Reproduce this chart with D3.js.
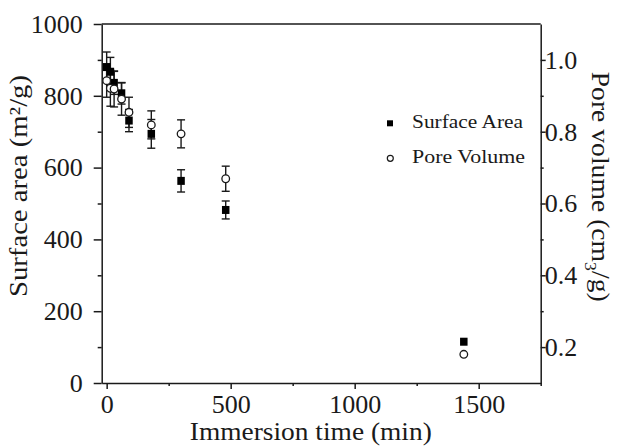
<!DOCTYPE html>
<html><head><meta charset="utf-8">
<script src="https://cdn.jsdelivr.net/npm/d3@7"></script>
<style>body{margin:0;background:#fff}</style>
</head><body>
<svg id="c" width="621" height="446" xmlns="http://www.w3.org/2000/svg"></svg>
<script>
// ---- data ----
const times = [0, 15, 30, 60, 90, 180, 300, 480, 1440];
const surfaceArea = [880, 867, 836, 807, 731, 694, 563, 482, 115];
const surfaceErr = [42, 40, 32, 30, 31, 40, 31, 25, 0];
const poreVolume = [0.942, 0.921, 0.919, 0.891, 0.854, 0.819, 0.794, 0.669, 0.180];
const poreErr = [0.046, 0.05, 0.05, 0.045, 0.042, 0.039, 0.039, 0.035, 0];
const xTicks = [0, 500, 1000, 1500];
const xMinor = [250, 750, 1250, 1750];
const yLeftTicks = [0, 200, 400, 600, 800, 1000];
const yLeftMinor = [100, 300, 500, 700, 900];
const yRightTicks = [0.2, 0.4, 0.6, 0.8, 1.0];
const yRightMinor = [0.3, 0.5, 0.7, 0.9];
const legendLabels = ["Surface Area", "Pore Volume"];

const FONT = "'Liberation Serif','Times New Roman',serif";
const INK = "#1a1a1a";
const svg = d3.select("#c");
const L = 101.7, R = 540.7, T = 24, B = 383;

const x = d3.scaleLinear().domain([-20, 1750]).range([L, R]);
const yL = d3.scaleLinear().domain([0, 1000]).range([B, T]);
const yR = d3.scaleLinear().domain([0.1, 1.1]).range([B, T]);

function styleAxis(g, size) {
  g.select(".domain").attr("stroke", INK).attr("stroke-width", 1.5);
  g.selectAll(".tick line").attr("stroke", INK).attr("stroke-width", 1.5);
  g.selectAll("text").attr("font-family", FONT).attr("font-size", size).attr("fill", INK);
}

// minor ticks first
svg.append("g").attr("transform", `translate(0,${B})`)
  .call(d3.axisBottom(x).tickValues(xMinor).tickSize(3).tickSizeOuter(0).tickFormat(""))
  .call(g => { styleAxis(g, 26); g.select(".domain").remove(); });
svg.append("g").attr("transform", `translate(${L},0)`)
  .call(d3.axisLeft(yL).tickValues(yLeftMinor).tickSize(4).tickSizeOuter(0).tickFormat(""))
  .call(g => { styleAxis(g, 26); g.select(".domain").remove(); });
svg.append("g").attr("transform", `translate(${R},0)`)
  .call(d3.axisRight(yR).tickValues(yRightMinor).tickSize(3).tickSizeOuter(0).tickFormat(""))
  .call(g => { styleAxis(g, 26); g.select(".domain").remove(); });

// major axes
svg.append("g").attr("transform", `translate(0,${B})`)
  .call(d3.axisBottom(x).tickValues(xTicks).tickSize(6).tickSizeOuter(0).tickPadding(5.5).tickFormat(d3.format("d")))
  .call(g => styleAxis(g, 26));
svg.append("g").attr("transform", `translate(${L},0)`)
  .call(d3.axisLeft(yL).tickValues(yLeftTicks).tickSize(8).tickSizeOuter(0).tickPadding(11).tickFormat(d3.format("d")))
  .call(g => styleAxis(g, 26));
svg.append("g").attr("transform", `translate(${R},0)`)
  .call(d3.axisRight(yR).tickValues(yRightTicks).tickSize(5).tickSizeOuter(0).tickPadding(-1).tickFormat(d3.format(".1f")))
  .call(g => styleAxis(g, 26));
// top border
svg.append("line").attr("x1", L).attr("x2", R).attr("y1", T).attr("y2", T)
  .attr("stroke", INK).attr("stroke-width", 1.5);

// axis titles
svg.append("text").attr("transform", `translate(27,186) rotate(-90)`)
  .attr("text-anchor", "middle").attr("font-family", FONT).attr("font-size", 25)
  .attr("fill", INK).attr("textLength", 222).attr("lengthAdjust", "spacingAndGlyphs")
  .text("Surface area (m²/g)");
const rt = svg.append("text").attr("transform", `translate(592,186.7) rotate(90)`)
  .attr("text-anchor", "middle").attr("font-family", FONT).attr("font-size", 25)
  .attr("fill", INK).attr("textLength", 230).attr("lengthAdjust", "spacingAndGlyphs");
rt.append("tspan").text("Pore volume (cm");
rt.append("tspan").attr("font-size", 16).attr("dy", 7.5).text("3");
rt.append("tspan").attr("dy", -7.5).text("/g)");
svg.append("text").attr("x", 310.8).attr("y", 440)
  .attr("text-anchor", "middle").attr("font-family", FONT).attr("font-size", 26)
  .attr("fill", INK).attr("textLength", 242).attr("lengthAdjust", "spacingAndGlyphs")
  .text("Immersion time (min)");

// data
const sa = times.map((t, i) => ({t, v: surfaceArea[i], e: surfaceErr[i]}));
const pv = times.map((t, i) => ({t, v: poreVolume[i], e: poreErr[i]}));

function errorBars(data, y) {
  const g = svg.append("g").attr("stroke", INK).attr("stroke-width", 1.4);
  data.filter(d => d.e > 0).forEach(d => {
    const cx = x(d.t), y1 = y(d.v - d.e), y2 = y(d.v + d.e);
    g.append("line").attr("x1", cx).attr("x2", cx).attr("y1", y1).attr("y2", y2);
    g.append("line").attr("x1", cx - 4).attr("x2", cx + 4).attr("y1", y1).attr("y2", y1);
    g.append("line").attr("x1", cx - 4).attr("x2", cx + 4).attr("y1", y2).attr("y2", y2);
  });
}
errorBars(pv, yR);
errorBars(sa, yL);

svg.append("g").selectAll("rect").data(sa).join("rect")
  .attr("x", d => x(d.t) - 3.75).attr("y", d => yL(d.v) - 4)
  .attr("width", 7.5).attr("height", 8).attr("fill", "#000");
svg.append("g").selectAll("circle").data(pv).join("circle")
  .attr("cx", d => x(d.t)).attr("cy", d => yR(d.v)).attr("r", 3.8)
  .attr("fill", "#fff").attr("stroke", INK).attr("stroke-width", 1.3);

// legend
const lg = svg.append("g");
lg.append("rect").attr("x", 387).attr("y", 120.3).attr("width", 6).attr("height", 6).attr("fill", "#000");
lg.append("circle").attr("cx", 390.3).attr("cy", 158.3).attr("r", 3).attr("fill", "#fff")
  .attr("stroke", INK).attr("stroke-width", 1.2);
lg.append("text").attr("x", 412).attr("y", 127.5).attr("font-family", FONT).attr("font-size", 19)
  .attr("fill", INK).attr("textLength", 111).attr("lengthAdjust", "spacingAndGlyphs").text(legendLabels[0]);
lg.append("text").attr("x", 412).attr("y", 163).attr("font-family", FONT).attr("font-size", 19)
  .attr("fill", INK).attr("textLength", 113).attr("lengthAdjust", "spacingAndGlyphs").text(legendLabels[1]);
</script>
</body></html>
